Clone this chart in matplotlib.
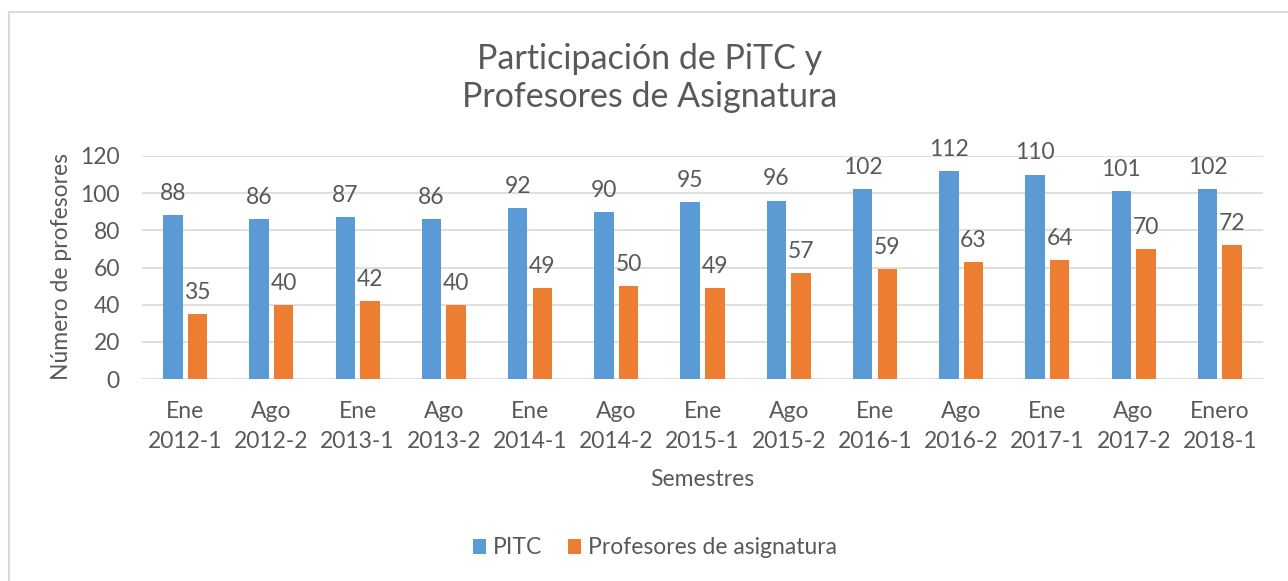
import matplotlib
matplotlib.use("Agg")
import matplotlib.pyplot as plt
import numpy as np
from matplotlib.lines import Line2D

categories = ["Ene\n2012-1", "Ago\n2012-2", "Ene\n2013-1", "Ago\n2013-2", "Ene\n2014-1",
              "Ago\n2014-2", "Ene\n2015-1", "Ago\n2015-2", "Ene\n2016-1", "Ago\n2016-2",
              "Ene\n2017-1", "Ago\n2017-2", "Enero\n2018-1"]
pitc = [88, 86, 87, 86, 92, 90, 95, 96, 102, 112, 110, 101, 102]
asignatura = [35, 40, 42, 40, 49, 50, 49, 57, 59, 63, 64, 70, 72]
yticks = [0, 20, 40, 60, 80, 100, 120]

plt.rcParams['font.family'] = ['Lato', 'DejaVu Sans']
grey = '#595959'
blue = '#5b9bd5'
orange = '#ed7d31'
fs = 16.5

W, H = 1288, 581
fig = plt.figure(figsize=(W/100, H/100), dpi=100)
ax = fig.add_axes([142/W, 1-379/H, (1263-142)/W, (379-156)/H])

x = np.arange(len(categories))
bw = 0.226
off = 0.143
b1 = ax.bar(x - off, pitc, bw, color=blue, label='PITC', zorder=3)
b2 = ax.bar(x + off, asignatura, bw, color=orange, label='Profesores de asignatura', zorder=3)

for bars, vals in ((b1, pitc), (b2, asignatura)):
    for r, v in zip(bars, vals):
        ax.annotate(str(v), (r.get_x() + r.get_width()/2, v), xytext=(0, 8),
                    textcoords='offset points', ha='center', va='bottom',
                    fontsize=fs, color=grey)

ax.set_xlim(-0.5, len(categories) - 0.5)
ax.set_ylim(0, 120)
ax.set_yticks(yticks)
ax.set_xticks(x)
ax.set_xticklabels(categories, linespacing=1.5)
ax.tick_params(axis='both', length=0, labelsize=fs, labelcolor=grey)
ax.tick_params(axis='y', pad=16)
ax.tick_params(axis='x', pad=16)
ax.yaxis.grid(True, color='#d9d9d9', linewidth=1.2, zorder=0)
for s in ax.spines.values():
    s.set_visible(False)
ax.set_axisbelow(True)

fig.text(62/W, 1-267/H, 'Número de profesores', rotation=90, ha='center', va='center',
         fontsize=fs, color=grey)
fig.text(702/W, 1-480/H, 'Semestres', ha='center', va='center', fontsize=fs, color=grey)
fig.text(650/W, 1-78/H, 'Participación de PiTC y\nProfesores de Asignatura', ha='center',
         va='center', fontsize=24.5, color=grey, linespacing=1.2)

leg = fig.legend(handles=[b1, b2], loc='center', bbox_to_anchor=(655/W, 1-548/H), ncol=2,
                 frameon=False, fontsize=fs, handlelength=0.6, handleheight=0.6,
                 handletextpad=0.3, columnspacing=1.1, labelcolor=grey)

fig.add_artist(Line2D([8.5/W, 8.5/W], [0, 1-11.5/H], transform=fig.transFigure,
                      color='#d9d9d9', linewidth=1.5))
fig.add_artist(Line2D([8.5/W, 1], [1-11.5/H, 1-11.5/H], transform=fig.transFigure,
                      color='#d9d9d9', linewidth=1.5))

fig.savefig('out.png', dpi=100)
